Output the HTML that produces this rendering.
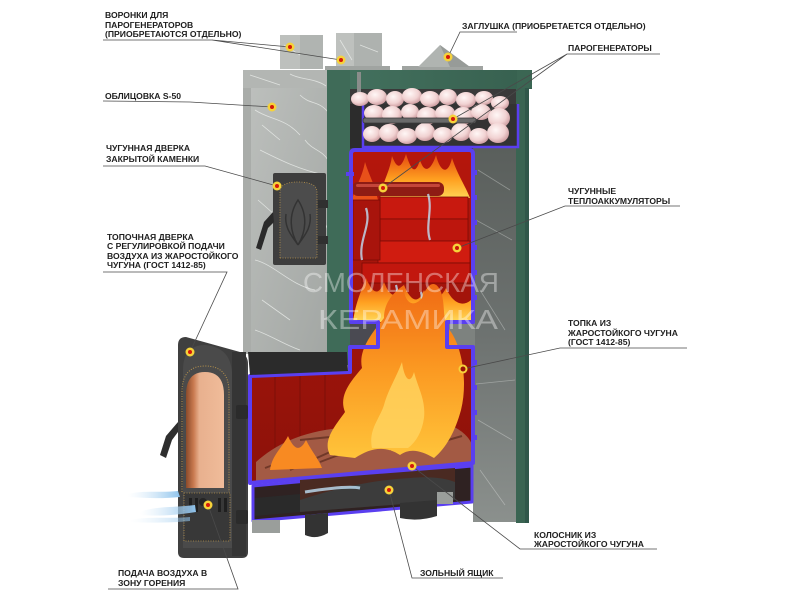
<!DOCTYPE html>
<html><head><meta charset="utf-8">
<style>
html,body{margin:0;padding:0;background:#fff;}
svg{display:block;}
.lb{font-family:"Liberation Sans","DejaVu Sans",sans-serif;font-weight:bold;font-size:8.6px;fill:#1e1e1e;}
.ln{stroke:#4a4a4a;stroke-width:0.8;fill:none;}
.vein{stroke:#eef0ee;stroke-width:0.8;fill:none;opacity:0.75;}
</style></head><body>
<svg width="800" height="600" viewBox="0 0 800 600" xmlns="http://www.w3.org/2000/svg">
<defs>
 <linearGradient id="stone" x1="0" y1="0" x2="1" y2="1">
  <stop offset="0" stop-color="#bcbfbc"/><stop offset="1" stop-color="#a2a6a3"/>
 </linearGradient>
 <linearGradient id="stoneD" x1="0" y1="0" x2="0" y2="1">
  <stop offset="0" stop-color="#5a5f5c"/><stop offset="0.5" stop-color="#6d7270"/><stop offset="1" stop-color="#8b908d"/>
 </linearGradient>
 <linearGradient id="green" x1="0" x2="1">
  <stop offset="0" stop-color="#44725f"/><stop offset="1" stop-color="#37604f"/>
 </linearGradient>
 <linearGradient id="redbox" x1="0" y1="0" x2="0" y2="1">
  <stop offset="0" stop-color="#b5160c"/><stop offset="1" stop-color="#8c120a"/>
 </linearGradient>
 <linearGradient id="fl" x1="0" y1="1" x2="0" y2="0">
  <stop offset="0" stop-color="#ffd95a"/><stop offset="0.45" stop-color="#ffa020"/><stop offset="1" stop-color="#e4480e"/>
 </linearGradient>
 <linearGradient id="fl2" x1="0" y1="0" x2="0" y2="1">
  <stop offset="0" stop-color="#f06a14"/><stop offset="0.5" stop-color="#fb9a22"/><stop offset="1" stop-color="#ffc43a"/>
 </linearGradient>
 <linearGradient id="glass" x1="0" x2="1">
  <stop offset="0" stop-color="#8a4a2a"/><stop offset="0.2" stop-color="#c97a50"/><stop offset="0.35" stop-color="#e8b08e"/><stop offset="1" stop-color="#f0bc9a"/>
 </linearGradient>
 <radialGradient id="peb" cx="0.4" cy="0.35" r="0.7">
  <stop offset="0" stop-color="#fff7f6"/><stop offset="0.6" stop-color="#f1d2d2"/><stop offset="1" stop-color="#c9969a"/>
 </radialGradient>
 <linearGradient id="air" x1="0" x2="1">
  <stop offset="0" stop-color="#cfe6f7" stop-opacity="0"/><stop offset="1" stop-color="#8ec3ec"/>
 </linearGradient>
</defs>

<!-- chimney blocks -->
<rect x="280" y="35" width="43" height="34" fill="#b0b4b1"/>
<rect x="280" y="35" width="20" height="34" fill="#bdc0bd"/>
<rect x="336" y="33" width="46" height="36" fill="#aeb2af"/>
<rect x="336" y="33" width="18" height="36" fill="#bec1be"/>
<path class="vein" d="M284,45 L300,55 M340,40 L352,60 M360,45 L378,52"/>
<rect x="325" y="66" width="65" height="4" fill="#a0a4a1"/>
<rect x="402" y="66" width="81" height="4" fill="#a0a4a1"/>
<polygon points="418,67 440,45 470,67" fill="#b0b4b1"/>
<polygon points="440,45 470,67 450,67" fill="#979b98"/>

<!-- stone slab & column -->
<rect x="243" y="70" width="86" height="19" fill="#b3b6b3"/>
<rect x="243" y="88" width="8" height="266" fill="#a9aca9"/>
<rect x="251" y="88" width="80" height="266" fill="url(#stone)"/>
<path class="vein" d="M255,110 C270,120 285,118 300,135 M260,150 C280,160 300,170 325,175 M258,200 L275,215 M300,190 C310,205 320,210 328,230 M255,260 C275,265 290,285 315,290 M262,300 L290,320 M300,95 C310,105 318,100 328,112 M250,75 L280,85 M290,74 C300,80 315,78 326,86 M255,330 C270,335 285,345 300,350 M262,125 L280,140 M305,140 C312,150 322,150 328,160"/>

<!-- green body -->
<rect x="327" y="70" width="205" height="19" fill="url(#green)"/>
<rect x="327" y="70" width="23" height="295" fill="#3f6b58"/>
<rect x="517" y="70" width="15" height="18" fill="#3b6653"/>
<rect x="516" y="88" width="13" height="435" fill="#3a6452"/>
<rect x="525" y="88" width="4" height="435" fill="#30574a"/>

<!-- interior top dark -->
<rect x="350" y="89" width="166" height="61" fill="#3a3a3a"/>
<rect x="357" y="72" width="4" height="26" fill="#8a8d8b"/>
<!-- right cavity stone -->
<rect x="473" y="148" width="43" height="374" fill="url(#stoneD)"/>
<path class="vein" style="opacity:0.35" d="M478,170 L510,190 M476,220 L512,240 M480,290 L505,330 M476,384 L515,380 M478,420 L512,440 M480,470 L505,505"/>
<rect x="350" y="320" width="30" height="30" fill="#4a4a52"/>
<rect x="445" y="320" width="30" height="30" fill="#7d827f"/>

<!-- stone tray -->
<rect x="350" y="104" width="13" height="44" fill="#2c2c2c"/>
<rect x="363" y="104" width="155" height="43" fill="#333"/>
<path d="M363,104 L363,147 L518,147 L518,104" fill="none" stroke="#5a3ff0" stroke-width="2.5"/>
<g fill="url(#peb)">
<ellipse cx="360" cy="99" rx="9" ry="7"/><ellipse cx="377" cy="97" rx="10" ry="8"/><ellipse cx="395" cy="99" rx="9" ry="8"/>
<ellipse cx="412" cy="96" rx="10" ry="8"/><ellipse cx="430" cy="99" rx="10" ry="8"/><ellipse cx="448" cy="97" rx="9" ry="8"/>
<ellipse cx="466" cy="100" rx="10" ry="8"/><ellipse cx="484" cy="98" rx="9" ry="7"/><ellipse cx="500" cy="103" rx="9" ry="7"/>
<ellipse cx="374" cy="113" rx="10" ry="8"/><ellipse cx="392" cy="115" rx="10" ry="9"/><ellipse cx="410" cy="112" rx="9" ry="8"/>
<ellipse cx="427" cy="116" rx="10" ry="9"/><ellipse cx="445" cy="113" rx="10" ry="8"/><ellipse cx="463" cy="116" rx="10" ry="9"/>
<ellipse cx="481" cy="112" rx="10" ry="8"/><ellipse cx="499" cy="118" rx="11" ry="10"/>
<ellipse cx="372" cy="134" rx="9" ry="8"/><ellipse cx="389" cy="133" rx="10" ry="9"/><ellipse cx="407" cy="136" rx="10" ry="8"/>
<ellipse cx="425" cy="132" rx="10" ry="9"/><ellipse cx="443" cy="135" rx="10" ry="8"/><ellipse cx="461" cy="132" rx="10" ry="9"/>
<ellipse cx="479" cy="136" rx="10" ry="8"/><ellipse cx="498" cy="133" rx="11" ry="10"/>
</g>
<rect x="363" y="118" width="113" height="5" rx="2" fill="#6a6a6a" stroke="#3a3a3a" stroke-width="0.8"/>

<!-- firebox interior -->
<path d="M355,150 L469,150 Q473,150 473,154 L473,322 L447,322 L447,347 L473,347 L473,463 L250,483 L250,376 L350,372 L350,347 L378,347 L378,322 L351,322 L351,154 Q351,150 355,150 Z" fill="url(#redbox)"/>
<path d="M380,200 C382,182 390,172 392,156 C398,172 402,166 406,154 C411,170 415,176 420,160 C425,176 432,168 436,155 C440,172 448,176 452,158 C458,176 465,185 470,198 Z" fill="url(#fl)"/>
<path d="M352,200 C356,185 362,178 365,162 C370,178 374,182 378,200 Z" fill="#e8501a"/>
<rect x="352" y="182" width="92" height="14" rx="6" fill="#8e1c14"/>
<rect x="356" y="184" width="84" height="3" rx="1.5" fill="#c4463a"/>
<g stroke="#7a0c06" stroke-width="0.8">
<rect x="380" y="197" width="88" height="22" fill="#c8190f"/>
<rect x="380" y="219" width="88" height="22" fill="#bd160d"/>
<rect x="378" y="241" width="92" height="22" fill="#d01c10"/>
<rect x="362" y="263" width="108" height="20" fill="#c2170e"/>
<rect x="353" y="200" width="27" height="60" fill="#a8140c"/>
</g>
<path d="M353,322 C356,300 362,290 366,278 C372,292 378,298 384,282 C390,298 398,300 404,285 C410,300 418,306 424,290 C430,304 440,300 446,288 C452,302 462,308 471,300 L471,322 Z" fill="url(#fl)"/>
<path d="M362,260 C358,240 372,225 366,208 M430,240 C425,225 433,210 428,194 M395,322 C392,305 400,298 396,285 M420,322 C418,310 424,302 421,292" stroke="#bfe0f6" stroke-width="2.2" fill="none" opacity="0.8"/>

<!-- lower firebox walls -->
<g stroke="#7c0f08" stroke-width="1">
<line x1="275" y1="377" x2="275" y2="478"/><line x1="300" y1="376" x2="300" y2="476"/><line x1="325" y1="375" x2="325" y2="474"/>
</g>
<!-- logs -->
<path d="M256,462 C275,445 300,432 340,428 C380,420 420,420 450,425 C462,430 470,438 472,445 L472,462 L256,482 Z" fill="#a35a44"/>
<path d="M265,468 L300,455 M290,470 L330,452 M320,462 L365,445 M350,455 L395,440 M390,450 L430,435 M420,448 L462,436 M300,440 L340,436 M380,430 L420,428" stroke="#5a2a1c" stroke-width="2" fill="none" opacity="0.7"/>
<!-- big flame -->
<path d="M330,455 C322,440 336,425 345,412 C338,395 352,380 362,368 C358,350 372,333 384,318 C384,302 394,292 404,285 C403,300 412,310 422,298 C427,284 435,278 441,292 C446,306 441,320 451,332 C462,348 468,382 461,410 C455,432 446,448 434,458 C420,450 410,448 400,455 C385,445 370,448 355,458 Z" fill="url(#fl2)"/>
<path d="M372,448 C368,430 380,418 384,405 C388,390 396,378 402,362 C404,378 410,386 414,372 C418,388 426,400 424,418 C422,432 416,442 408,448 Z" fill="#ffd460" opacity="0.8"/>
<path d="M270,470 C272,455 282,448 288,436 C294,450 300,452 306,440 C312,452 318,458 322,468 Z" fill="#f88a22"/>

<!-- firebox outline -->
<path d="M355,150 L469,150 Q473,150 473,154 L473,322 L447,322 L447,347 L473,347 L473,463 L250,483 L250,376 L350,372 L350,347 L378,347 L378,322 L351,322 L351,154 Q351,150 355,150 Z" fill="none" stroke="#5a3ff0" stroke-width="4" stroke-linejoin="round"/>
<g fill="#5a3ff0">
<rect x="473" y="170" width="4" height="5"/><rect x="473" y="195" width="4" height="5"/><rect x="473" y="220" width="4" height="5"/><rect x="473" y="245" width="4" height="5"/><rect x="473" y="270" width="4" height="5"/><rect x="473" y="295" width="4" height="5"/>
<rect x="473" y="360" width="4" height="5"/><rect x="473" y="385" width="4" height="5"/><rect x="473" y="410" width="4" height="5"/><rect x="473" y="435" width="4" height="5"/>
<rect x="346" y="172" width="8" height="4"/>
</g>
<polygon points="248,352 347,352 348,371 250,375" fill="#2b2b2b"/>

<!-- ash compartment -->
<polygon points="253,486 472,466 472,502 253,521" fill="#2f2222" stroke="#5a3ff0" stroke-width="3" stroke-linejoin="round"/>
<polygon points="300,480 455,468 455,500 300,512" fill="#4a2a22"/>
<path d="M300,500 C330,490 370,480 410,478 C430,476 445,478 455,482 L455,500 L300,512 Z" fill="#3c3c3c"/>
<path d="M255,498 L300,494 L300,512 L255,516 Z" fill="#2a2a2a"/>
<path d="M305,492 C330,488 350,486 360,488" stroke="#bfe0f6" stroke-width="3" fill="none" opacity="0.8"/>
<rect x="252" y="520" width="28" height="13" fill="#9a9e9b"/>
<path d="M305,515 L328,513 L328,533 Q316,540 305,535 Z" fill="#333"/>
<path d="M400,503 L437,500 L437,516 Q418,522 400,518 Z" fill="#333"/>
<rect x="437" y="492" width="16" height="12" fill="#9a9e9b"/>

<!-- fire door -->
<path d="M186,337 L240,352 Q248,355 248,364 L248,552 Q248,558 242,558 L184,558 Q178,558 178,552 L178,345 Q178,337 186,337 Z" fill="#3f3f3f"/>
<path d="M183,370 Q183,345 205,345 Q230,347 232,372 L232,548 L183,548 Z" fill="#4a4a4a"/>
<path d="M186,488 L186,395 Q186,372 205,372 Q224,372 224,395 L224,488 Z" fill="url(#glass)"/>
<path d="M182,492 L182,392 Q182,366 205,366 Q229,366 229,392 L229,492" fill="none" stroke="#b8934a" stroke-width="1" stroke-dasharray="1 1.5"/>
<rect x="232" y="352" width="14" height="204" fill="#353535"/>
<rect x="236" y="405" width="12" height="14" rx="2" fill="#2b2b2b"/>
<rect x="236" y="510" width="12" height="14" rx="2" fill="#2b2b2b"/>
<rect x="184" y="493" width="46" height="48" fill="#383838" stroke="#b8934a" stroke-width="0.8" stroke-dasharray="1 1.5"/>
<g fill="#1f1f1f"><rect x="189" y="498" width="3" height="14"/><rect x="195" y="498" width="3" height="14"/><rect x="218" y="498" width="3" height="14"/><rect x="224" y="498" width="3" height="14"/></g>
<circle cx="203" cy="502" r="4" fill="#252525"/>
<path d="M178,422 L166,436 L160,455 L166,458 L172,440 L178,432 Z" fill="#2e2e2e"/>
<path d="M128,494 C145,490 160,493 178,491 L180,497 C160,499 145,498 128,497 Z" fill="url(#air)"/>
<path d="M140,512 C155,506 170,508 195,505 L196,512 C172,516 155,516 140,515 Z" fill="url(#air)"/>
<path d="M130,520 C150,516 170,519 190,517 L190,521 C170,523 150,523 130,522 Z" fill="url(#air)" opacity="0.6"/>

<!-- upper door -->
<rect x="273" y="173" width="53" height="92" rx="2" fill="#3d3d3d"/>
<path d="M280,258 L280,192 Q280,182 298,182 Q317,182 317,192 L317,258 Z" fill="#4c4c4c" stroke="#b8934a" stroke-width="0.8" stroke-dasharray="1 1.5"/>
<path d="M298,245 C290,232 288,215 298,200 C308,215 306,232 298,245 M298,245 C292,236 284,228 286,214 M298,245 C304,236 312,228 310,214" stroke="#333" stroke-width="1.5" fill="none"/>
<rect x="318" y="200" width="10" height="8" fill="#303030"/>
<rect x="318" y="236" width="10" height="8" fill="#303030"/>
<path d="M273,212 L264,222 L256,248 L261,250 L268,228 L274,222 Z" fill="#2a2a2a"/>

<!-- watermark -->
<text x="303" y="292" font-family="Liberation Sans, sans-serif" font-size="28" fill="#ffffff" opacity="0.38" textLength="196" lengthAdjust="spacingAndGlyphs">СМОЛЕНСКАЯ</text>
<text x="318" y="329" font-family="Liberation Sans, sans-serif" font-size="28" fill="#ffffff" opacity="0.38" textLength="180" lengthAdjust="spacingAndGlyphs">КЕРАМИКА</text>

<!-- label lines -->
<path class="ln" d="M103,40 L212,40 L290,47 M212,40 L341,60"/>
<path class="ln" d="M103,101 L190,102 L272,107"/>
<path class="ln" d="M103,166 L205,166 L277,186"/>
<path class="ln" d="M103,272 L227,272 L190,352"/>
<path class="ln" d="M108,589 L238,589 L208,505"/>
<path class="ln" d="M503,578 L412,578 L389,490"/>
<path class="ln" d="M517,32 L460,32 L448,57"/>
<path class="ln" d="M660,54 L567,54 L453,119 M567,54 L383,188"/>
<path class="ln" d="M680,206 L565,206 L457,248"/>
<path class="ln" d="M687,348 L560,348 L463,369"/>
<path class="ln" d="M657,549 L520,549 L412,466"/>

<!-- dots -->
<g>
<circle cx="290" cy="47" r="4.5" fill="#f6d23a"/><circle cx="290" cy="47" r="2" fill="#d4180a"/>
<circle cx="341" cy="60" r="4.5" fill="#f6d23a"/><circle cx="341" cy="60" r="2" fill="#d4180a"/>
<circle cx="448" cy="57" r="4.5" fill="#f6d23a"/><circle cx="448" cy="57" r="2" fill="#d4180a"/>
<circle cx="272" cy="107" r="4.5" fill="#f6d23a"/><circle cx="272" cy="107" r="2" fill="#d4180a"/>
<circle cx="453" cy="119" r="4.5" fill="#f6d23a"/><circle cx="453" cy="119" r="2" fill="#d4180a"/>
<circle cx="277" cy="186" r="4.5" fill="#f6d23a"/><circle cx="277" cy="186" r="2" fill="#d4180a"/>
<circle cx="383" cy="188" r="4.5" fill="#f6d23a"/><circle cx="383" cy="188" r="2" fill="#d4180a"/>
<circle cx="457" cy="248" r="4.5" fill="#f6d23a"/><circle cx="457" cy="248" r="2" fill="#c8160a"/>
<circle cx="190" cy="352" r="4.5" fill="#f6d23a"/><circle cx="190" cy="352" r="2" fill="#d4180a"/>
<circle cx="463" cy="369" r="4.5" fill="#f6d23a"/><circle cx="463" cy="369" r="2.5" fill="#9a1208"/>
<circle cx="412" cy="466" r="4.5" fill="#f6d23a"/><circle cx="412" cy="466" r="2" fill="#d4180a"/>
<circle cx="389" cy="490" r="4.5" fill="#f6d23a"/><circle cx="389" cy="490" r="2" fill="#d4180a"/>
<circle cx="208" cy="505" r="4.5" fill="#f6d23a"/><circle cx="208" cy="505" r="2" fill="#d4180a"/>
</g>

<!-- labels -->
<text class="lb" x="105" y="18">ВОРОНКИ ДЛЯ</text>
<text class="lb" x="105" y="28">ПАРОГЕНЕРАТОРОВ</text>
<text class="lb" x="105" y="37">(ПРИОБРЕТАЮТСЯ ОТДЕЛЬНО)</text>
<text class="lb" x="105" y="99">ОБЛИЦОВКА S-50</text>
<text class="lb" x="106" y="151">ЧУГУННАЯ ДВЕРКА</text>
<text class="lb" x="106" y="162">ЗАКРЫТОЙ КАМЕНКИ</text>
<text class="lb" x="107" y="240">ТОПОЧНАЯ ДВЕРКА</text>
<text class="lb" x="107" y="249">С РЕГУЛИРОВКОЙ ПОДАЧИ</text>
<text class="lb" x="107" y="259">ВОЗДУХА ИЗ ЖАРОСТОЙКОГО</text>
<text class="lb" x="107" y="268">ЧУГУНА (ГОСТ 1412-85)</text>
<text class="lb" x="118" y="576">ПОДАЧА ВОЗДУХА В</text>
<text class="lb" x="118" y="586">ЗОНУ ГОРЕНИЯ</text>
<text class="lb" x="420" y="576">ЗОЛЬНЫЙ ЯЩИК</text>
<text class="lb" x="462" y="29">ЗАГЛУШКА (ПРИОБРЕТАЕТСЯ ОТДЕЛЬНО)</text>
<text class="lb" x="568" y="51">ПАРОГЕНЕРАТОРЫ</text>
<text class="lb" x="568" y="194">ЧУГУННЫЕ</text>
<text class="lb" x="568" y="204">ТЕПЛОАККУМУЛЯТОРЫ</text>
<text class="lb" x="568" y="326">ТОПКА ИЗ</text>
<text class="lb" x="568" y="336">ЖАРОСТОЙКОГО ЧУГУНА</text>
<text class="lb" x="568" y="345">(ГОСТ 1412-85)</text>
<text class="lb" x="534" y="538">КОЛОСНИК ИЗ</text>
<text class="lb" x="534" y="547">ЖАРОСТОЙКОГО ЧУГУНА</text>
</svg>
</body></html>
